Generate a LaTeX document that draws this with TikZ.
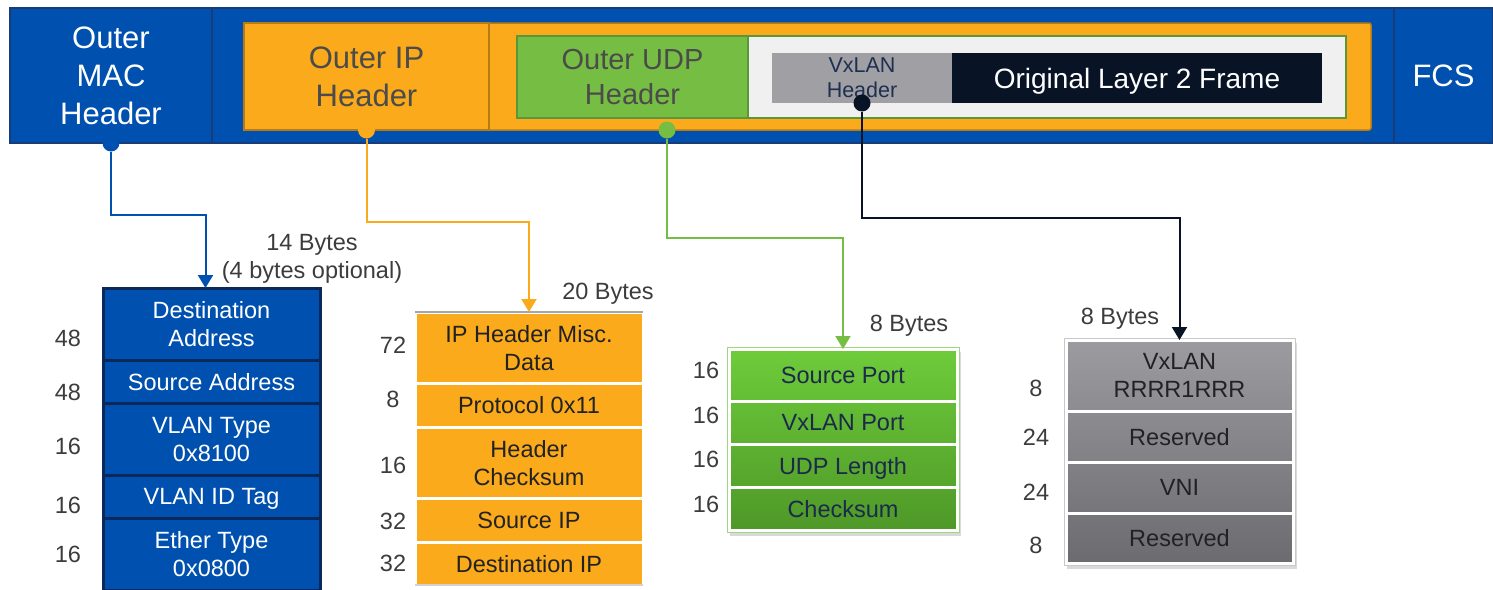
\documentclass[tikz,border=0pt]{standalone}
\usepackage{fontspec}
\setmainfont{Liberation Sans}
\usetikzlibrary{arrows.meta, positioning, shadows, backgrounds, fit}
\newcommand{\hdrlink}[4]
{
	\draw[#1] (#2) -- +(0,#3) -| (#4)
}
\newcommand{\hdrfont}{\fontsize{31}{38}\selectfont}
\newcommand{\rowfont}{\fontsize{23.5}{28}\selectfont}
\newcommand{\tagfont}{\fontsize{21.5}{25}\selectfont}
\newcommand{\framefont}{\fontsize{28}{32}\selectfont}
\definecolor{ciscoblue}{RGB}{0,81,175}
\definecolor{barline}{RGB}{24,60,120}
\definecolor{macline}{RGB}{10,40,90}
\definecolor{iporange}{RGB}{250,170,26}
\definecolor{ipline}{RGB}{184,122,18}
\definecolor{udpgreen}{RGB}{118,190,67}
\definecolor{udpline}{RGB}{92,150,58}
\definecolor{paleg}{RGB}{240,240,240}
\definecolor{vxgray}{RGB}{160,159,164}
\definecolor{framedark}{RGB}{8,20,38}
\definecolor{hdrgray}{RGB}{75,75,75}
\definecolor{vxtext}{RGB}{30,48,80}
\definecolor{textdark}{RGB}{34,34,34}
\definecolor{udptext}{RGB}{27,42,74}
\definecolor{numgray}{RGB}{60,60,60}
\definecolor{udptop}{RGB}{110,204,58}
\definecolor{udpbot}{RGB}{78,152,40}
\definecolor{udpedge}{RGB}{160,214,130}
\definecolor{vxtop}{RGB}{156,155,160}
\definecolor{vxbot}{RGB}{108,107,112}
\definecolor{vxedge}{RGB}{200,200,200}

\begin{document}
\begin{tikzpicture}[x=1pt, y=-1pt,
	every node/.append style={inner sep=0pt, outer sep=0pt, align=center, text depth=0pt},
	box/.style={anchor=north west, line width=1.5pt},
	dot/.style={circle, minimum size=17pt},
	macrow/.style={anchor=north, minimum width=217pt, fill=ciscoblue,
		draw=macline, line width=3pt, text=white, font=\rowfont},
	iprow/.style={anchor=north, minimum width=228pt, fill=iporange,
		draw=white, line width=3pt, text=textdark, font=\rowfont},
	udprow/.style={anchor=north, minimum width=228pt,
		draw=white, line width=3pt, text=udptext, font=\rowfont},
	vxrow/.style={anchor=north, minimum width=227pt,
		draw=white, line width=3pt, text=textdark, font=\rowfont},
	num/.style={text=numgray, font=\rowfont},
	wire/.style={line width=2pt, -{Triangle[width=15pt,length=13pt]}}]

	\clip (0,0) rectangle (1493,589);

	\node[box, draw=barline, fill=ciscoblue, minimum width=202pt, minimum height=135pt,
		text=white, font=\hdrfont] (mac) at (10,8) {Outer\\MAC\\Header};
	\node[box, draw=barline, fill=ciscoblue, minimum width=1182pt, minimum height=135pt] (encap) at (212,8) {};
	\node[box, draw=barline, fill=ciscoblue, minimum width=99pt, minimum height=135pt,
		text=white, font=\hdrfont] (fcs) at (1394,8) {FCS};
	\node[box, draw=ipline, fill=iporange, rounded corners=2pt, minimum width=1127pt,
		minimum height=107pt] (ipouter) at (244,23) {};
	\node[box, draw=ipline, fill=iporange, minimum width=245pt, minimum height=107pt,
		text=hdrgray, font=\hdrfont] (iphdr) at (244,23) {Outer IP\\Header};
	\node[box, draw=udpline, fill=udpgreen, minimum width=231pt, minimum height=82pt,
		text=hdrgray, font=\fontsize{29}{35}\selectfont] (udphdr) at (517,36) {Outer UDP\\Header};
	\node[box, draw=udpline, fill=paleg, minimum width=598pt, minimum height=82pt] (payload) at (748,36) {};
	\node[box, fill=vxgray, minimum width=180pt, minimum height=50pt,
		text=vxtext, font=\tagfont] (vxhdr) at (772,53) {VxLAN\\Header};
	\node[box, fill=framedark, minimum width=370pt, minimum height=50pt,
		text=white, font=\framefont] (l2frame) at (952,53) {Original Layer 2 Frame};

	\node[dot, fill=ciscoblue] (macdot) at (mac.south) {};
	\node[dot, fill=iporange] (ipdot) at (iphdr.south) {};
	\node[dot, fill=udpgreen] (udpdot) at (667,130) {};
	\node[dot, fill=framedark] (vxdot) at (vxhdr.south) {};

	\node[macrow, minimum height=72pt] (mac1) at (211.5,288) {Destination\\Address};
	\node[macrow, minimum height=43pt] (mac2) at (211.5,360) {Source Address};
	\node[macrow, minimum height=72pt] (mac3) at (211.5,403) {VLAN Type\\0x8100};
	\node[macrow, minimum height=43pt] (mac4) at (211.5,475) {VLAN ID Tag};
	\node[macrow, minimum height=72pt] (mac5) at (211.5,518) {Ether Type\\0x0800};
	\node[num] (macn1) at (68,338) {48};
	\node[num] (macn2) at (68,392) {48};
	\node[num] (macn3) at (68,446) {16};
	\node[num] (macn4) at (68,505) {16};
	\node[num] (macn5) at (68,554) {16};
	\node[num] (macsize) at (312,256) {14 Bytes\\(4 bytes optional)};

	\node[iprow, minimum height=71pt] (ip1) at (529,312) {IP Header Misc.\\Data};
	\node[iprow, minimum height=44pt] (ip2) at (529,383) {Protocol 0x11};
	\node[iprow, minimum height=71pt] (ip3) at (529,427) {Header\\Checksum};
	\node[iprow, minimum height=44pt] (ip4) at (529,498) {Source IP};
	\node[iprow, minimum height=43pt] (ip5) at (529,542) {Destination IP};
	\draw[gray!70, line width=2pt] (ip1.north west) -- (ip1.north east);
	\draw[gray!35, line width=2pt] (ip5.south west) -- (ip5.south east);
	\node[num] (ipn1) at (393,345) {72};
	\node[num] (ipn2) at (393,399) {8};
	\node[num] (ipn3) at (393,465) {16};
	\node[num] (ipn4) at (393,521) {32};
	\node[num] (ipn5) at (393,563) {32};
	\node[num] (ipsize) at (608,291) {20 Bytes};

	\node[udprow, minimum height=52pt, top color=udptop, bottom color=udptop!71!udpbot] (udp1) at (843,349) {Source Port};
	\node[udprow, minimum height=43pt, top color=udptop!71!udpbot, bottom color=udptop!48!udpbot] (udp2) at (843,401) {VxLAN Port};
	\node[udprow, minimum height=43pt, top color=udptop!48!udpbot, bottom color=udptop!24!udpbot] (udp3) at (843,444) {UDP Length};
	\node[udprow, minimum height=43pt, top color=udptop!24!udpbot, bottom color=udpbot] (udp4) at (843,487) {Checksum};
	\node[num] (udpn1) at (706,370) {16};
	\node[num] (udpn2) at (706,415) {16};
	\node[num] (udpn3) at (706,459) {16};
	\node[num] (udpn4) at (706,504) {16};
	\node[num] (udpsize) at (909,323) {8 Bytes};

	\node[vxrow, minimum height=71pt, top color=vxtop, bottom color=vxtop!68!vxbot] (vx1) at (1179.5,340) {VxLAN\\RRRR1RRR};
	\node[vxrow, minimum height=51pt, top color=vxtop!68!vxbot, bottom color=vxtop!45!vxbot] (vx2) at (1179.5,411) {Reserved};
	\node[vxrow, minimum height=51pt, top color=vxtop!45!vxbot, bottom color=vxtop!22!vxbot] (vx3) at (1179.5,462) {VNI};
	\node[vxrow, minimum height=50pt, top color=vxtop!22!vxbot, bottom color=vxbot] (vx4) at (1179.5,513) {Reserved};
	\node[num] (vxn1) at (1036,388) {8};
	\node[num] (vxn2) at (1036,437) {24};
	\node[num] (vxn3) at (1036,492) {24};
	\node[num] (vxn4) at (1036,545) {8};
	\node[num] (vxsize) at (1120,316) {8 Bytes};

	\begin{scope}[on background layer]
		\node[fit=(udp1)(udp4), inner sep=1.5pt, draw=udpedge, line width=2pt, fill=udpbot,
			drop shadow={opacity=0.3, shadow xshift=2pt, shadow yshift=-4pt}] (udpshade) {};
		\node[fit=(vx1)(vx4), inner sep=1.5pt, draw=vxedge, line width=2pt, fill=vxbot,
			drop shadow={opacity=0.3, shadow xshift=2pt, shadow yshift=-4pt}] (vxshade) {};
	\end{scope}

	\hdrlink{wire, ciscoblue}{macdot}{72}{[xshift=-6pt]mac1.north};
	\hdrlink{wire, iporange}{ipdot}{92}{ip1.north};
	\hdrlink{wire, udpgreen}{udpdot}{108}{udp1.north};
	\hdrlink{wire, framedark}{vxdot}{115}{vx1.north};
\end{tikzpicture}
\end{document}
